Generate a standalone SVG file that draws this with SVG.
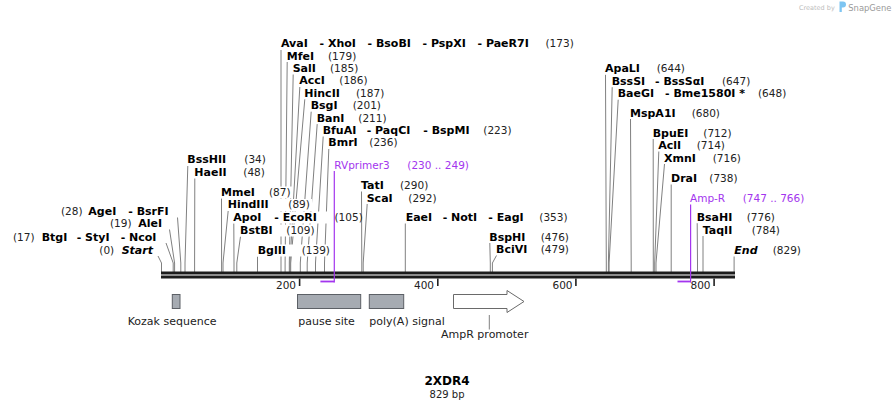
<svg xmlns="http://www.w3.org/2000/svg" width="896" height="409" viewBox="0 0 896 409">
<style>
text{font-family:"DejaVu Sans",Verdana,sans-serif;font-size:10.5px;fill:#000}
.b{font-weight:bold;font-size:11px}
.n{fill:#222}
.i{font-style:italic}
.p{fill:#a335ee}
.f{font-size:11px;fill:#222}
.cut{stroke:#808080;stroke-width:1;fill:none}
.pr{stroke:#a335ee;fill:none}
.bg{fill:#fff}
.feat{fill:#a6abb2;stroke:#5c6066;stroke-width:1}
.tick{stroke:#222;stroke-width:1.6}
</style>
<rect width="896" height="409" fill="#fff"/>

<g id="watermark">
<text x="799" y="10" style="font-size:6.5px;fill:#bdbdbd">Created by</text>
<path d="M839.5,1.5h3.5a3,3 0 0 1 0,6h-1.2v4.5h-2.3z" fill="#7ec5f2"/>
<text x="848.3" y="11" style="font-size:8.4px;fill:#9a9a9a">SnapGene</text>
</g>

<g id="connectors">
<path class="cut" d="M161.5,272V263L158,256"/>
<path class="cut" d="M173.2,272V263L166,243"/>
<path class="cut" d="M174.6,272V263L169.5,229.5"/>
<path class="cut" d="M180.8,272V263L177.5,217.5"/>
<path class="cut" d="M185,272V263L187.8,166"/>
<path class="cut" d="M194.6,272V263L194.8,178.5"/>
<path class="cut" d="M221.6,272V263L221.5,198.2"/>
<path class="cut" d="M223,272V263L228.2,210.8"/>
<path class="cut" d="M234,272V263L233.8,223.2"/>
<path class="cut" d="M236.8,272V263L240.5,236.5"/>
<path class="cut" d="M257.5,272V256.5"/>
<path class="cut" d="M281,272V50"/>
<path class="cut" d="M285.1,272V263L287.2,62"/>
<path class="cut" d="M289.3,272V263L293.2,74.5"/>
<path class="cut" d="M290,272V263L299.8,87"/>
<path class="cut" d="M290.7,272V263L304.8,99.3"/>
<path class="cut" d="M300.3,272V263L311.2,111.7"/>
<path class="cut" d="M307.2,272V263L317.2,124.1"/>
<path class="cut" d="M315.5,272V263L323.2,136.5"/>
<path class="cut" d="M324.5,272V263L328.8,149"/>
<path class="cut" d="M361.8,272V263L361.5,191.5"/>
<path class="cut" d="M363.2,272V263L367.2,204"/>
<path class="cut" d="M405.3,272V223.5"/>
<path class="cut" d="M490.3,272V263L489.8,243"/>
<path class="cut" d="M492.4,272V263L496.5,255.5"/>
<path class="cut" d="M606.3,272V263L605.5,74.8"/>
<path class="cut" d="M608.4,272V263L612.2,87.2"/>
<path class="cut" d="M609.1,272V263L618.2,99.7"/>
<path class="cut" d="M631.2,272V263L630.5,119"/>
<path class="cut" d="M653.3,272V263L653.2,139"/>
<path class="cut" d="M654.7,272V263L658.8,151.5"/>
<path class="cut" d="M656,272V263L664.5,164"/>
<path class="cut" d="M671.2,272V184.5"/>
<path class="cut" d="M697.5,272V263L697.2,223.2"/>
<path class="cut" d="M703,272V236"/>
<path class="cut" d="M734.1,272V256.5"/>
</g>

<g id="sequence">
<rect x="161" y="271.5" width="574" height="3" fill="#1c1c1c"/>
<rect x="161" y="275.5" width="574" height="3" fill="#1c1c1c"/>
<path class="tick" d="M299.6,278.5V286M437.8,278.5V286M575.9,278.5V286M714.1,278.5V286"/>
<text class="n" x="296" y="288.5" text-anchor="end">200</text>
<text class="n" x="434" y="288.5" text-anchor="end">400</text>
<text class="n" x="572.5" y="288.5" text-anchor="end">600</text>
<text class="n" x="710.5" y="288.5" text-anchor="end">800</text>
</g>

<g id="label-backgrounds">
<rect class="bg" x="219" y="186.5" width="73" height="12"/>
<rect class="bg" x="226" y="199" width="86" height="12"/>
<rect class="bg" x="232" y="211.5" width="100" height="12"/>
<rect class="bg" x="238" y="224.5" width="78" height="12"/>
<rect class="bg" x="256" y="244.5" width="75" height="12"/>
</g>

<g id="primer-RVprimer3">
<path class="pr" d="M334.3,171V282.5" stroke-width="1.2"/>
<path class="pr" d="M320.4,281.5H334.3" stroke-width="1.8"/>
<text class="p" x="334.3" y="168.5">RVprimer3</text>
<text class="p" x="407.3" y="168.5">(230 .. 249)</text>
</g>
<g id="primer-AmpR">
<path class="pr" d="M690.6,204.5V282.5" stroke-width="1.2"/>
<path class="pr" d="M677.5,281.5H690.6" stroke-width="1.8"/>
<text class="p" x="690" y="201.7">Amp-R</text>
<text class="p" x="742.7" y="201.7">(747 .. 766)</text>
</g>

<g id="site-Start"><text class="n" x="99.3" y="254">(0)</text><text class="b i" x="121.7" y="254">Start</text></g>
<g id="site-BtgI"><text class="n" x="13" y="240.7">(17)</text><text class="b" x="41.7" y="240.7">BtgI</text><text class="b" x="76.7" y="240.7">- StyI</text><text class="b" x="120.7" y="240.7">- NcoI</text></g>
<g id="site-AleI"><text class="n" x="110" y="227.3">(19)</text><text class="b" x="138.3" y="227.3">AleI</text></g>
<g id="site-AgeI"><text class="n" x="61" y="215">(28)</text><text class="b" x="88.3" y="215">AgeI</text><text class="b" x="128.3" y="215">- BsrFI</text></g>
<g id="site-BssHII"><text class="b" x="187.3" y="163.3">BssHII</text><text class="n" x="244.3" y="163.3">(34)</text></g>
<g id="site-HaeII"><text class="b" x="194.3" y="176">HaeII</text><text class="n" x="243.3" y="176">(48)</text></g>
<g id="site-MmeI"><text class="b" x="221" y="195.7">MmeI</text><text class="n" x="269" y="195.7">(87)</text></g>
<g id="site-HindIII"><text class="b" x="227.7" y="208.3">HindIII</text><text class="n" x="288.3" y="208.3">(89)</text></g>
<g id="site-ApoI"><text class="b" x="233.3" y="220.7">ApoI</text><text class="b" x="274.3" y="220.7">- EcoRI</text><text class="n" x="334.5" y="220.7">(105)</text></g>
<g id="site-BstBI"><text class="b" x="240" y="234">BstBI</text><text class="n" x="286.3" y="234">(109)</text></g>
<g id="site-BglII"><text class="b" x="257.7" y="254">BglII</text><text class="n" x="301.7" y="254">(139)</text></g>

<g id="site-AvaI"><text class="b" x="281" y="47.3">AvaI</text><text class="b" x="319.5" y="47.3">- XhoI</text><text class="b" x="367.5" y="47.3">- BsoBI</text><text class="b" x="422.5" y="47.3">- PspXI</text><text class="b" x="477.5" y="47.3">- PaeR7I</text><text class="n" x="545.5" y="47.3">(173)</text></g>
<g id="site-MfeI"><text class="b" x="286.7" y="59.6">MfeI</text><text class="n" x="328" y="59.6">(179)</text></g>
<g id="site-SalI"><text class="b" x="292.7" y="72">SalI</text><text class="n" x="330" y="72">(185)</text></g>
<g id="site-AccI"><text class="b" x="299.3" y="84.4">AccI</text><text class="n" x="339.3" y="84.4">(186)</text></g>
<g id="site-HincII"><text class="b" x="304.3" y="96.8">HincII</text><text class="n" x="356" y="96.8">(187)</text></g>
<g id="site-BsgI"><text class="b" x="310.7" y="109.2">BsgI</text><text class="n" x="352.7" y="109.2">(201)</text></g>
<g id="site-BanI"><text class="b" x="316.7" y="121.6">BanI</text><text class="n" x="358.3" y="121.6">(211)</text></g>
<g id="site-BfuAI"><text class="b" x="322.7" y="134">BfuAI</text><text class="b" x="366.7" y="134">- PaqCI</text><text class="b" x="423.3" y="134">- BspMI</text><text class="n" x="483.3" y="134">(223)</text></g>
<g id="site-BmrI"><text class="b" x="328.3" y="146.4">BmrI</text><text class="n" x="369.3" y="146.4">(236)</text></g>
<g id="site-TatI"><text class="b" x="361" y="189">TatI</text><text class="n" x="400" y="189">(290)</text></g>
<g id="site-ScaI"><text class="b" x="366.7" y="201.5">ScaI</text><text class="n" x="408.3" y="201.5">(292)</text></g>
<g id="site-EaeI"><text class="b" x="405.7" y="221">EaeI</text><text class="b" x="442.7" y="221">- NotI</text><text class="b" x="488.3" y="221">- EagI</text><text class="n" x="539.3" y="221">(353)</text></g>
<g id="site-BspHI"><text class="b" x="489.3" y="240.5">BspHI</text><text class="n" x="540.7" y="240.5">(476)</text></g>
<g id="site-BciVI"><text class="b" x="496" y="253">BciVI</text><text class="n" x="540.7" y="253">(479)</text></g>

<g id="site-ApaLI"><text class="b" x="605" y="72.3">ApaLI</text><text class="n" x="656.7" y="72.3">(644)</text></g>
<g id="site-BssSI"><text class="b" x="611.7" y="84.7">BssSI</text><text class="b" x="655" y="84.7">- BssSαI</text><text class="n" x="722" y="84.7">(647)</text></g>
<g id="site-BaeGI"><text class="b" x="617.7" y="97.2">BaeGI</text><text class="b" x="665" y="97.2">- Bme1580I *</text><text class="n" x="758" y="97.2">(648)</text></g>
<g id="site-MspA1I"><text class="b" x="630" y="116.5">MspA1I</text><text class="n" x="691.7" y="116.5">(680)</text></g>
<g id="site-BpuEI"><text class="b" x="652.7" y="136.5">BpuEI</text><text class="n" x="703.3" y="136.5">(712)</text></g>
<g id="site-AclI"><text class="b" x="658.3" y="149">AclI</text><text class="n" x="696.7" y="149">(714)</text></g>
<g id="site-XmnI"><text class="b" x="664" y="161.5">XmnI</text><text class="n" x="712.7" y="161.5">(716)</text></g>
<g id="site-DraI"><text class="b" x="671" y="182">DraI</text><text class="n" x="709.3" y="182">(738)</text></g>
<g id="site-BsaHI"><text class="b" x="696.7" y="220.7">BsaHI</text><text class="n" x="746.7" y="220.7">(776)</text></g>
<g id="site-TaqII"><text class="b" x="702.7" y="233.5">TaqII</text><text class="n" x="751.7" y="233.5">(784)</text></g>
<g id="site-End"><text class="b i" x="734.3" y="254">End</text><text class="n" x="772.7" y="254">(829)</text></g>

<g id="feature-kozak">
<rect class="feat" x="172.3" y="294.5" width="7.7" height="14"/>
<text class="f" x="127.7" y="325">Kozak sequence</text>
</g>
<g id="feature-pause">
<rect class="feat" x="297.5" y="294.5" width="63.2" height="14"/>
<text class="f" x="298.3" y="325">pause site</text>
</g>
<g id="feature-polyA">
<rect class="feat" x="369.3" y="294.5" width="34.4" height="14"/>
<text class="f" x="369.3" y="325">poly(A) signal</text>
</g>
<g id="feature-AmpR-promoter">
<path d="M453.5,294.5H507V290.5L524,301.5L507,312.5V308.5H453.5Z" fill="#fff" stroke="#6a6a6a" stroke-width="1"/>
<path d="M489.3,315V329.5" stroke="#808080" stroke-width="1"/>
<text class="f" x="441" y="338.3">AmpR promoter</text>
</g>

<g id="title">
<text class="b" x="447" y="385" text-anchor="middle" style="font-size:12px">2XDR4</text>
<text class="n" x="447" y="397.5" text-anchor="middle" style="font-size:10px">829 bp</text>
</g>
</svg>
